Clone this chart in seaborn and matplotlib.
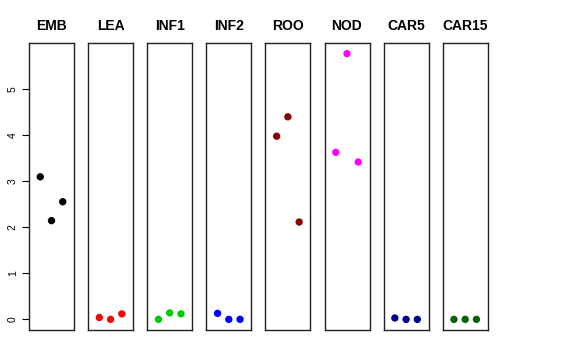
import pandas as pd
import matplotlib
matplotlib.use('Agg')
import matplotlib.pyplot as plt
import seaborn as sns

# Values (three replicates per tissue)
tissues = ['EMB', 'LEA', 'INF1', 'INF2', 'ROO', 'NOD', 'CAR5', 'CAR15']
colors = ['black', 'red', '#00CD00', 'blue', '#8B0000', 'magenta', '#00008B', '#006400']
rep1 = [3.09, 0.04, 0.00, 0.13, 3.97, 3.62, 0.03, 0.00]
rep2 = [2.14, 0.00, 0.14, 0.00, 4.39, 5.76, 0.00, 0.00]
rep3 = [2.55, 0.12, 0.12, 0.00, 2.11, 3.41, 0.00, 0.00]

df = pd.DataFrame({
    'tissue': tissues * 3,
    'rep': [1] * 8 + [2] * 8 + [3] * 8,
    'value': rep1 + rep2 + rep3,
})

sns.set_style('white')
plt.rcParams['font.family'] = ['Liberation Sans', 'DejaVu Sans']
plt.rcParams['text.color'] = 'black'
plt.rcParams['ytick.color'] = 'black'

fig = plt.figure(figsize=(5.76, 3.6), dpi=100)

ymax = df['value'].max()
ylim = (-0.04 * ymax, ymax * 1.04)

for i, (t, c) in enumerate(zip(tissues, colors)):
    left = (29 + i * 59.1) / 576
    ax = fig.add_axes([left, 30 / 360, 45 / 576, 287 / 360])
    sub = df[df['tissue'] == t]
    sns.scatterplot(data=sub, x='rep', y='value', color=c, s=28,
                    edgecolor='none', ax=ax, legend=False)
    ax.set_xlim(0, 4)
    ax.set_ylim(*ylim)
    ax.set_xticks([])
    ax.set_xlabel('')
    ax.set_ylabel('')
    ax.set_title(t, fontsize=10, fontweight='bold', pad=9, color='black')
    for sp in ax.spines.values():
        sp.set_visible(True)
        sp.set_color('#222222')
        sp.set_linewidth(1)
    if i == 0:
        ax.set_yticks([0, 1, 2, 3, 4, 5])
        ax.tick_params(axis='y', left=True, length=5, width=0.8,
                       labelsize=7.5, pad=3, color='black', labelcolor='black')
        for lab in ax.get_yticklabels():
            lab.set_rotation(90)
            lab.set_va('center')
    else:
        ax.set_yticks([])

fig.savefig('out.png', dpi=100)
